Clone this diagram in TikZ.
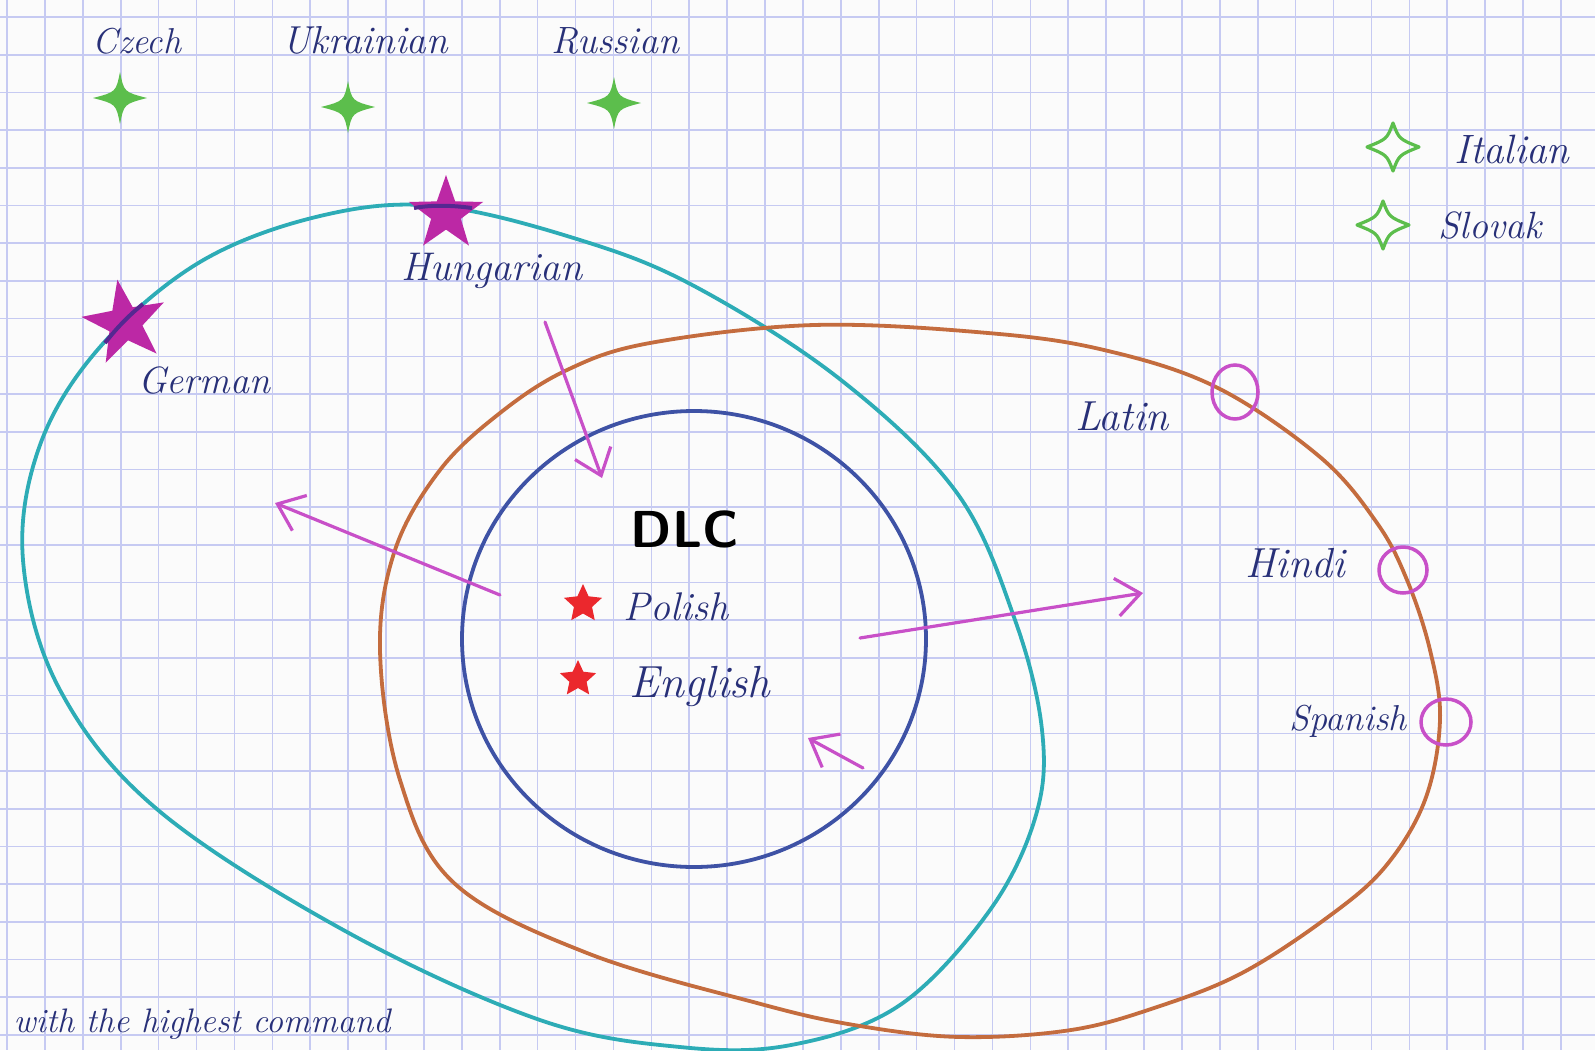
\documentclass[tikz,border=0pt]{standalone}
\usetikzlibrary{arrows.meta,shapes.geometric}
\definecolor{gridc}{RGB}{198,202,242}
\definecolor{cyanc}{RGB}{45,172,182}
\definecolor{orangec}{RGB}{196,108,62}
\definecolor{bluec}{RGB}{62,82,165}
\definecolor{magc}{RGB}{200,80,200}
\definecolor{starmag}{RGB}{188,40,165}
\definecolor{grn}{RGB}{92,190,76}
\definecolor{redc}{RGB}{235,40,45}
\definecolor{ink}{RGB}{40,48,120}
\definecolor{darkseg}{RGB}{85,40,145}
\newcommand\myhand[1]{\fontsize{#1}{#1}\selectfont\itshape}
\begin{document}
\begin{tikzpicture}[x=1pt,y=-1pt,
  gridline/.style={draw=gridc,line width=1.6pt},
  loop/.style={line width=3.8pt,line join=round},
  arr/.style={draw=magc,line width=3.2pt,line cap=round,
    -{Straight Barb[length=24pt,width=38pt,line width=3.2pt]}},
  ring/.style={draw=magc,line width=3.5pt,ellipse,inner sep=0pt},
  label/.style={text=ink,anchor=base,inner sep=0pt},
  magstar/.style={star,star points=5,star point ratio=2.5,fill=starmag,inner sep=0pt},
  redstar/.style={star,star points=5,star point ratio=2.1,fill=redc,inner sep=0pt,minimum size=40pt},
  fourstar/.pic={\path[pic actions] (0,-26) .. controls (4,-6) .. (27,0) .. controls (4,6) .. (0,26) .. controls (-4,6) .. (-27,0) .. controls (-4,-6) .. (0,-26) -- cycle;},
  fourstaro/.pic={\path[pic actions] (0,-24) .. controls (6,-8) .. (26,0) .. controls (6,8) .. (0,24) .. controls (-6,8) .. (-26,0) .. controls (-6,-8) .. (0,-24) -- cycle;}
]
\useasboundingbox (0,0) rectangle (1595,1050);
\fill[white!97!gray] (0,0) rectangle (1595,1050);
% grid
\foreach \i in {0,...,42} \draw[gridline] ({7+37.9*\i},0) -- ({7+37.9*\i},1050);
\foreach \j in {0,...,27} \draw[gridline] (0,{17+37.7*\j}) -- (1595,{17+37.7*\j});

% cyan loop
\draw[loop,cyanc] plot[smooth cycle,tension=0.6] coordinates {
 (437,206) (580,240) (696,287) (841,380) (957,493) (1015,620) (1042,730) (1036,815)
 (990,910) (900,1005) (791,1045) (680,1047) (540,1020) (347,932) (158,810)
 (60,690) (23,560) (40,445) (100,347) (200,262) (320,216)};

% orange loop
\draw[loop,orangec] plot[smooth cycle,tension=0.6] coordinates {
 (814,325) (988,333) (1104,350) (1216,387) (1320,457) (1377,523) (1407,580)
 (1430,650) (1440,720) (1425,800) (1385,867) (1328,917) (1242,973) (1157,1007)
 (1071,1030) (960,1037) (854,1025) (757,1003) (587,953) (454,883)
 (400,780) (380,650) (395,550) (440,470) (500,413) (567,370) (650,343)};

% blue loop
\node[draw=bluec,line width=3.8pt,ellipse,inner sep=0pt,minimum width=464pt,minimum height=456pt] (dlcring) at (694,639) {};

% magenta stars on the cyan loop
\node[magstar,minimum size=78pt] (hustar) at (446,214) {};
\node[magstar,minimum size=88pt,rotate=10] (destar) at (125,323) {};
\draw[darkseg,line width=4pt] (414,208) .. controls (430,205) and (450,205) .. (472,208);
\draw[darkseg,line width=4pt] (105,343) .. controls (115,330) and (128,316) .. (143,304);

% green stars
\pic[fill=grn] at (120,98) {fourstar};
\pic[fill=grn] at (348,107) {fourstar};
\pic[fill=grn] at (614,103) {fourstar};
\pic[draw=grn,line width=3.2pt,line join=round] at (1393,147) {fourstaro};
\pic[draw=grn,line width=3.2pt,line join=round] at (1383,225) {fourstaro};

% rings
\node[ring,minimum width=46pt,minimum height=54pt] (laring) at (1235,392) {};
\node[ring,minimum width=48pt,minimum height=46pt] (hiring) at (1403,570) {};
\node[ring,minimum width=50pt,minimum height=46pt] (spring) at (1446,722) {};

% red stars
\node[redstar] (plstar) at (583,604) {};
\node[redstar,minimum size=38pt] (enstar) at (578,679) {};

% labels
\node[label,font=\myhand{36}] (czech) at (137,53) {Czech};
\node[label,font=\myhand{39}] (ukr) at (365,53) {Ukrainian};
\node[label,font=\myhand{38}] (rus) at (615,53) {Russian};
\node[label,font=\myhand{40}] (hun) at (492,280) {Hungarian};
\node[label,font=\myhand{38}] (ger) at (204,393) {German};
\node[label,font=\myhand{42}] (lat) at (1122,430) {Latin};
\node[label,font=\myhand{42}] (hin) at (1295,577) {Hindi};
\node[label,font=\myhand{36}] (spa) at (1348,730) {Spanish};
\node[label,font=\myhand{41}] (ita) at (1512,163) {Italian};
\node[label,font=\myhand{38}] (slo) at (1490,238) {Slovak};
\node[label,font=\myhand{40}] (pol) at (676,620) {Polish};
\node[label,font=\myhand{45}] (eng) at (700,697) {English};
\node[label,font=\myhand{34}] (cmd) at (202,1032) {with the highest command};
\node[anchor=base,inner sep=0pt,font=\fontsize{52}{52}\selectfont\sffamily\bfseries] (dlc) at (685,547) {DLC};

% arrows
\coordinate (a1s) at (545,322); \coordinate (a1e) at (602,478);
\coordinate (a2s) at (500,595); \coordinate (a2e) at (275,503);
\coordinate (a3s) at (860,638); \coordinate (a3e) at (1143,593);
\coordinate (a4s) at (863,768); \coordinate (a4e) at (808,738);
\draw[arr] (a1s) -- (a1e);
\draw[arr] (a2s) -- (a2e);
\draw[arr] (a3s) -- (a3e);
\draw[arr] (a4s) -- (a4e);
\end{tikzpicture}
\end{document}
